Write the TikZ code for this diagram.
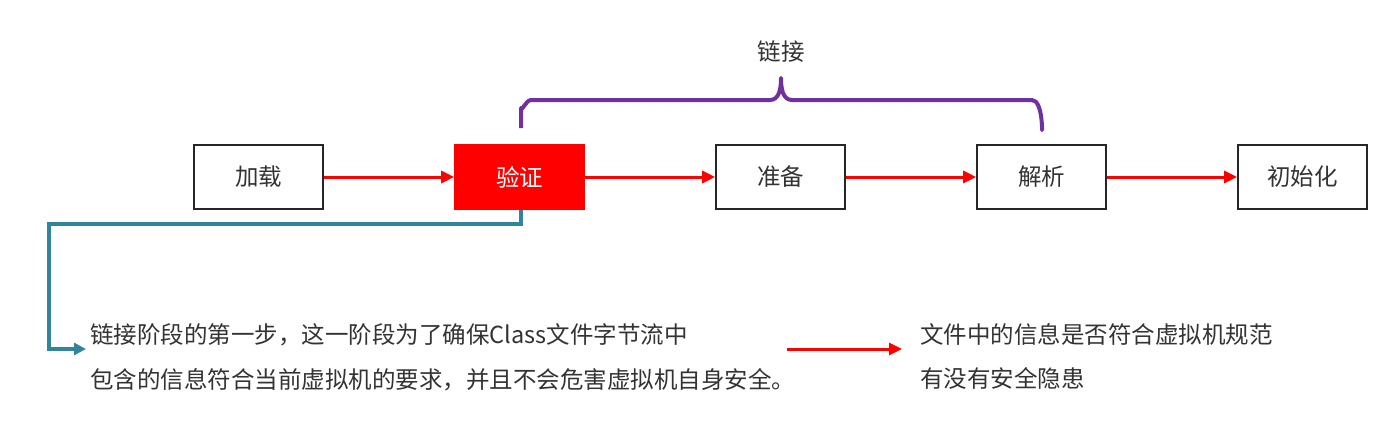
\documentclass[tikz,border=0pt]{standalone}
\usepackage{fontspec}
\setmainfont{Noto Sans CJK SC}
\usetikzlibrary{arrows.meta}
\definecolor{tealc}{HTML}{31849B}
\definecolor{purp}{HTML}{7030A0}
\definecolor{txt}{HTML}{333333}
\tikzset{
  stage/.style={draw=black!85, line width=1.6pt, minimum width=129pt, minimum height=64pt, inner sep=0pt, text=txt, font=\fontsize{23.5}{28}\selectfont},
  flow/.style={draw=red, line width=3pt, -{Triangle[length=13pt,width=12pt]}},
  lbl/.style={text=txt, font=\fontsize{23.5}{28}\selectfont, inner sep=0pt, anchor=west},
}
\begin{document}
\begin{tikzpicture}[x=1pt,y=-1pt]
\useasboundingbox (0,0) rectangle (1400,428);
\node[stage] (jz) at (258.5,177) {加载};
\node[stage, fill=red, draw=red, text=white] (yz) at (519.5,177) {验证};
\node[stage] (zb) at (780.5,177) {准备};
\node[stage] (jx) at (1041.5,177) {解析};
\node[stage] (csh) at (1302.5,177) {初始化};
\draw[flow] (jz) -- (yz);
\draw[flow] (yz) -- (zb);
\draw[flow] (zb) -- (jx);
\draw[flow] (jx) -- (csh);
% brace
\coordinate (bl) at (521,128);
\coordinate (br) at (1042,128);
\draw[purp, line width=4pt, line join=round] (bl) -- (521,108) to[out=-90,in=180] (531,100) -- (770,100) to[out=0,in=-90] (781,78) to[out=-90,in=180] (792,100) -- (1032,100) to[out=0,in=-90] (br);
\node[lbl, anchor=center] (link) at (781,52) {链接};
% teal connector
\node[lbl] (t1) at (90,335) {链接阶段的第一步，这一阶段为了确保Class文件字节流中};
\node[lbl] (t2) at (90,380) {包含的信息符合当前虚拟机的要求，并且不会危害虚拟机自身安全。};
\coordinate (tend) at (86,349);
\draw[tealc, line width=3.5pt, -{Triangle[length=12pt,width=12pt]}] (yz.south -| bl) |- (49,224) |- (tend);
% right text
\node[lbl] (r1) at (920,334) {文件中的信息是否符合虚拟机规范};
\node[lbl] (r2) at (920,378) {有没有安全隐患};
\coordinate (ra) at (787,349);
\coordinate (rb) at (902,349);
\draw[flow] (ra) -- (rb);
\end{tikzpicture}
\end{document}
